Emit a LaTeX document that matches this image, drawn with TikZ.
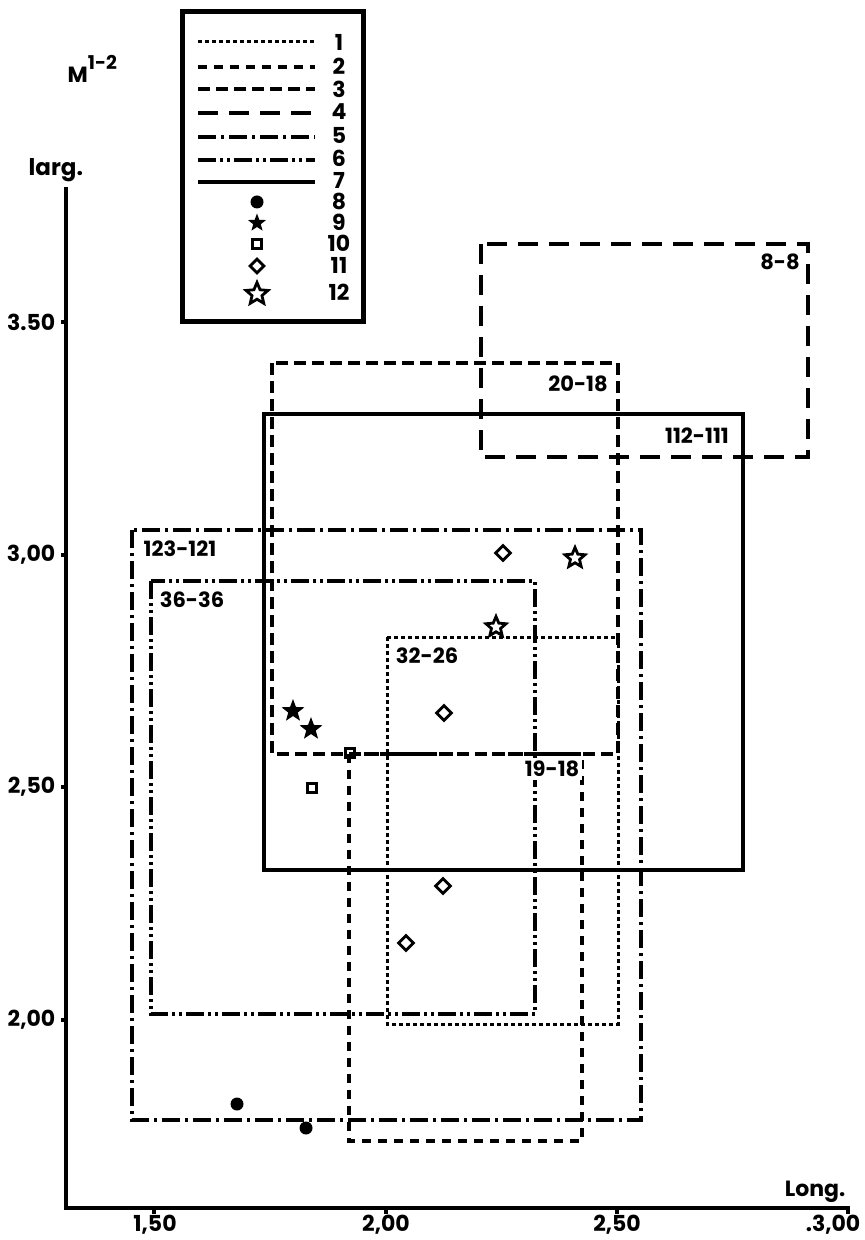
\documentclass[tikz,border=0pt]{standalone}
\usepackage{fontspec}
\setmainfont{Poppins}
\usetikzlibrary{shapes.geometric}
\begin{document}
\begin{tikzpicture}[x=0.5pt,y=-0.5pt, line width=1.7pt,
  lab/.style={font=\bfseries\fontsize{10.5}{12}\selectfont, inner sep=0pt},
  leg/.style={font=\bfseries\fontsize{11}{12}\selectfont, inner sep=0pt},
  tick/.style={font=\bfseries\fontsize{11}{12}\selectfont, inner sep=0pt},
  sA/.style={line width=1.5pt, dash pattern=on 2pt off 1.5pt},
  sB/.style={dash pattern=on 4.5pt off 3.5pt},
  sC/.style={dash pattern=on 6pt off 3pt},
  sD/.style={dash pattern=on 10pt off 5.5pt},
  sE/.style={dash pattern=on 9pt off 2.5pt on 1.5pt off 2.5pt},
  sF/.style={dash pattern=on 9pt off 2pt on 1.5pt off 2pt on 1.5pt off 2pt},
  fdot/.style={circle, fill, draw=none, inner sep=0pt, minimum size=6.5pt},
  fstar/.style={star, star points=5, star point ratio=2.4, fill, draw=none, inner sep=0pt, minimum size=12pt},
  ostar/.style={star, star points=5, star point ratio=2.2, draw, line width=1.4pt, inner sep=0pt, minimum size=10.5pt},
  osq/.style={rectangle, draw, line width=1.4pt, inner sep=0pt, minimum size=4.5pt},
  odia/.style={diamond, draw, line width=1.4pt, inner sep=0pt, minimum size=8pt},
]
\useasboundingbox (0,0) rectangle (864,1240);

% axes
\coordinate (ytop) at (66,187);
\coordinate (orig) at (66,1208);
\coordinate (xend) at (848,1208);
\draw (ytop) -- (orig) -- (xend) -- ++(0,6);
\foreach \x in {154,386,617} \draw (\x,1208) -- (\x,1214);
\foreach \y in {322,555,787,1020} \draw (66,\y) -- (61,\y);

\node[tick, anchor=east] (y350) at (57,322) {3.50};
\node[tick, anchor=east] (y300) at (57,555) {3,00};
\node[tick, anchor=east] (y250) at (57,787) {2,50};
\node[tick, anchor=east] (y200) at (57,1020) {2,00};
\node[tick] (x150) at (155,1225) {1,50};
\node[tick] (x200) at (386,1225) {2,00};
\node[tick] (x250) at (617,1225) {2,50};
\node[tick, anchor=east] (x300) at (862,1225) {.3,00};

\node[tick, anchor=east] (long) at (847,1192) {Long.};
\node[lab, font=\bfseries\fontsize{11.5}{13}\selectfont, anchor=base west] (larg) at (27,176) {larg.};
\node[tick, anchor=base west] (mlab) at (66,83) {M\raisebox{1.1ex}{\fontsize{9.5}{11}\selectfont 1-2}};

% rectangles
\draw[sD] (481,244) rectangle (808,457);
\draw[sC] (272,363) rectangle (618,754);
\draw (264,414) rectangle (743,870);
\draw[sE] (132,530) rectangle (641,1120);
\draw[sF] (151,581) rectangle (535,1014);
\draw[sA] (387,637) rectangle (618,1024);
\draw[sB] (349,754) rectangle (582,1141);

\node[lab] (r88) at (780,262) {8-8};
\node[lab] (r2018) at (578,384) {20-18};
\node[lab] (r112) at (697,436) {112-111};
\node[lab] (r123) at (180,549) {123-121};
\node[lab] (r36) at (192,600) {36-36};
\node[lab] (r32) at (427,656) {32-26};
\node[lab, fill=white, inner sep=1.5pt] (r19) at (552,769) {19-18};

% data points
\node[fdot] (c1) at (237,1104) {};
\node[fdot] (c2) at (306,1128) {};
\node[fstar] (f1) at (293,711) {};
\node[fstar] (f2) at (311,729) {};
\node[osq] (q1) at (350,753) {};
\node[osq] (q2) at (312,788) {};
\node[odia] (d1) at (503,553) {};
\node[odia] (d2) at (444,713) {};
\node[odia] (d3) at (443,886) {};
\node[odia] (d4) at (406,943) {};
\node[ostar] (o1) at (575,558) {};
\node[ostar] (o2) at (496,627) {};

% legend
\draw[line width=2.5pt, fill=white] (182,12) rectangle (363,322);
\draw[sA] (198,42) -- (315,42);
\draw[sB] (198,67) -- (315,67);
\draw[sC] (198,89) -- (315,89);
\draw[sD] (198,113) -- (315,113);
\draw[sE] (198,137) -- (315,137);
\draw[sF] (198,160) -- (315,160);
\draw (198,182) -- (315,182);
\node[fdot, minimum size=6.5pt] (lg8) at (257,202) {};
\node[fstar, minimum size=9.5pt] (lg9) at (257,223) {};
\node[osq] (lg10) at (257,244) {};
\node[odia, minimum size=7.5pt] (lg11) at (257,266) {};
\node[ostar, minimum size=11.5pt] (lg12) at (257,294) {};
\foreach \n/\y in {1/42,2/66,3/89,4/112,5/135,6/158,7/180,8/201,9/222,10/243,11/265,12/292}
  \node[leg] (ln\n) at (339,\y) {\n};
\end{tikzpicture}
\end{document}
